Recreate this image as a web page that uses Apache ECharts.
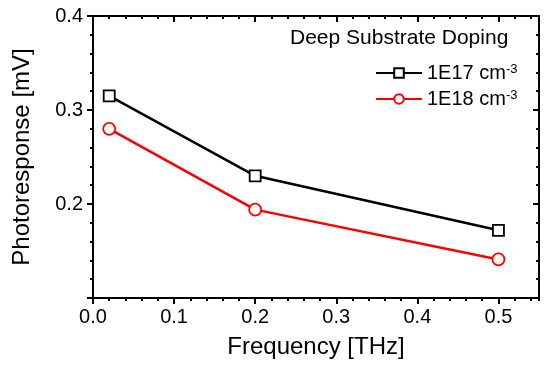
<!DOCTYPE html>
<html>
<head>
<meta charset="utf-8">
<script src="https://cdn.jsdelivr.net/npm/echarts@6/dist/echarts.min.js"></script>
<style>
html,body{margin:0;padding:0;background:#fff;}
#chart{width:546px;height:367px;}
</style>
</head>
<body>
<div id="chart"></div>
<script>
// Data
const frequencyTHz = [0.02, 0.2, 0.5];
const doping1E17 = [0.315, 0.230, 0.172];
const doping1E18 = [0.280, 0.194, 0.141];
const seriesNames = ['1E17 cm-3', '1E18 cm-3'];
const legendTitle = 'Deep Substrate Doping';
const xTitle = 'Frequency [THz]';
const yTitle = 'Photoresponse [mV]';

const FONT = 'Liberation Sans, Arial, sans-serif';
const chart = echarts.init(document.getElementById('chart'));

const axLine = {show: true, onZero: false, lineStyle: {color: '#000', width: 2}};
const noLine = {show: false};

function xAx(opts) {
  return Object.assign({
    type: 'value', min: 0, max: 0.55, interval: 0.1,
    splitLine: {show: false}, axisLine: axLine
  }, opts);
}
function yAx(opts) {
  return Object.assign({
    type: 'value', min: 0.1, max: 0.4, interval: 0.1,
    splitLine: {show: false}, axisLine: axLine
  }, opts);
}

const option = {
  backgroundColor: '#fff',
  animation: false,
  grid: {left: 93, right: 7, top: 16, bottom: 69, containLabel: false},
  xAxis: [
    xAx({position: 'bottom', name: xTitle, nameLocation: 'middle', nameGap: 37,
      nameTextStyle: {fontFamily: FONT, fontSize: 24, color: '#000'},
      axisTick: {show: true, inside: false, length: 6, lineStyle: {color: '#000', width: 2}},
      axisLabel: {show: true, margin: 9, fontFamily: FONT, fontSize: 20, color: '#000',
        showMaxLabel: false, formatter: v => v.toFixed(1)}}),
    xAx({position: 'bottom', interval: 0.02, axisLine: noLine,
      axisTick: {show: true, inside: false, length: 3, lineStyle: {color: '#000', width: 2}},
      axisLabel: {show: false}}),
    xAx({position: 'top',
      axisTick: {show: true, inside: true, length: 6, lineStyle: {color: '#000', width: 2}},
      axisLabel: {show: false}}),
    xAx({position: 'top', interval: 0.02, axisLine: noLine,
      axisTick: {show: true, inside: true, length: 3, lineStyle: {color: '#000', width: 2}},
      axisLabel: {show: false}})
  ],
  yAxis: [
    yAx({position: 'left', name: yTitle, nameLocation: 'middle', nameGap: 59,
      nameTextStyle: {fontFamily: FONT, fontSize: 24, color: '#000'},
      axisTick: {show: true, inside: false, length: 6, lineStyle: {color: '#000', width: 2}},
      minorTick: {show: true, splitNumber: 5, length: 3, lineStyle: {color: '#000', width: 2}},
      axisLabel: {show: true, margin: 10, fontFamily: FONT, fontSize: 20, color: '#000',
        showMinLabel: false, formatter: v => v.toFixed(1)}}),
    yAx({position: 'right',
      axisTick: {show: true, inside: true, length: 6, lineStyle: {color: '#000', width: 2}},
      minorTick: {show: true, splitNumber: 5, length: 3, lineStyle: {color: '#000', width: 2}},
      axisLabel: {show: false}})
  ],
  legend: {
    orient: 'vertical', left: 370, top: 58, itemWidth: 46, itemHeight: 12, itemGap: 6,
    data: seriesNames,
    formatter: n => '{m|' + n.replace('-3', '') + '}{s|-3}',
    textStyle: {
      color: '#000', fontFamily: FONT,
      rich: {
        m: {fontSize: 20, fontFamily: FONT, color: '#000'},
        s: {fontSize: 13, fontFamily: FONT, color: '#000', verticalAlign: 'top'}
      }
    }
  },
  graphic: [{
    type: 'text', left: 290, top: 28,
    style: {text: legendTitle, font: '21px ' + FONT, fill: '#000'}
  }],
  series: [
    {
      name: seriesNames[0], type: 'line', xAxisIndex: 0, yAxisIndex: 0,
      data: frequencyTHz.map((x, i) => [x, doping1E17[i]]),
      symbol: 'rect', symbolSize: 11,
      lineStyle: {color: '#000', width: 2.5},
      itemStyle: {color: '#fff', borderColor: '#000', borderWidth: 1.8},
      z: 3
    },
    {
      name: seriesNames[1], type: 'line', xAxisIndex: 0, yAxisIndex: 0,
      data: frequencyTHz.map((x, i) => [x, doping1E18[i]]),
      symbol: 'circle', symbolSize: 12,
      lineStyle: {color: '#ff0000', width: 2.5},
      itemStyle: {color: '#fff', borderColor: '#ff0000', borderWidth: 1.8},
      z: 2
    }
  ]
};
chart.setOption(option);
</script>
</body>
</html>
